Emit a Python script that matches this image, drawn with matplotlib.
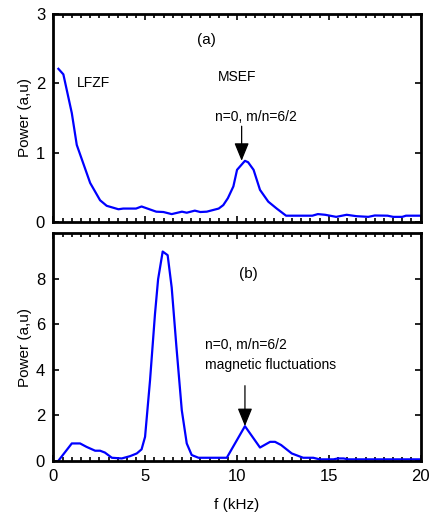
"""Power spectra of zonal flow / magnetic fluctuations, two stacked panels."""

import matplotlib
matplotlib.use("Agg")
import matplotlib.pyplot as plt
from matplotlib.ticker import MultipleLocator

plt.rcParams["font.family"] = ["Liberation Sans", "DejaVu Sans"]

# panel (a): floating potential spectrum
freq_a = [0.27, 0.54, 1.0, 1.27, 2.0, 2.54, 2.9, 3.54, 3.8, 4.5, 4.8, 5.6, 5.99,
          6.44, 7.0, 7.26, 7.7, 8.0, 8.35, 9.0, 9.25, 9.5, 9.8, 10.0, 10.43,
          10.6, 10.9, 11.25, 11.7, 12.16, 12.67, 13.4, 14.1, 14.4, 14.8, 15.4,
          15.97, 16.5, 17.15, 17.5, 18.2, 18.5, 19.0, 19.2, 20.0]
power_a = [2.21, 2.13, 1.57, 1.11, 0.56, 0.31, 0.23, 0.18, 0.19, 0.19, 0.22,
           0.145, 0.14, 0.11, 0.145, 0.13, 0.16, 0.14, 0.145, 0.19, 0.24, 0.34,
           0.51, 0.75, 0.88, 0.86, 0.75, 0.46, 0.29, 0.19, 0.087, 0.087, 0.087,
           0.11, 0.10, 0.07, 0.10, 0.08, 0.07, 0.09, 0.087, 0.07, 0.07, 0.087,
           0.087]

# panel (b): magnetic fluctuation spectrum
freq_b = [0.27, 1.0, 1.45, 1.8, 2.27, 2.54, 2.8, 3.18, 3.72, 4.17, 4.54, 4.8,
          4.99, 5.26, 5.53, 5.7, 5.95, 6.22, 6.44, 6.7, 6.99, 7.26, 7.53, 7.9,
          9.44, 10.43, 11.25, 11.8, 12.07, 12.4, 12.98, 13.6, 14.15, 14.5,
          15.25, 15.5, 15.8, 16.06, 20.0]
power_b = [0.0, 0.76, 0.76, 0.61, 0.44, 0.44, 0.36, 0.13, 0.10, 0.20, 0.32,
           0.50, 1.05, 3.53, 6.45, 7.98, 9.2, 9.04, 7.62, 4.99, 2.22, 0.76,
           0.25, 0.13, 0.13, 1.52, 0.58, 0.83, 0.83, 0.69, 0.32, 0.13, 0.13,
           0.06, 0.06, 0.10, 0.10, 0.06, 0.06]

ARROW = dict(arrowstyle="-|>,head_length=1.1,head_width=0.45", color="k",
             lw=0.9, mutation_scale=10, shrinkA=0, shrinkB=0)


def style_axes(ax):
    for s in ax.spines.values():
        s.set_linewidth(2)
    ax.set_xlim(0, 20)
    ax.xaxis.set_major_locator(MultipleLocator(5))
    ax.xaxis.set_minor_locator(MultipleLocator(0.5))
    ax.tick_params(which="both", direction="in", top=True, right=True,
                   labelsize=12, width=1.2)
    ax.tick_params(which="major", length=4, pad=6)
    ax.tick_params(which="minor", length=3)
    ax.set_ylabel("Power (a,u)", fontsize=11, labelpad=3)


fig = plt.figure(figsize=(4.31, 5.15), dpi=100)
ax1 = fig.add_axes([0.124, 0.5695, 0.852, 0.403])
ax2 = fig.add_axes([0.124, 0.1054, 0.852, 0.4415])

ax1.plot(freq_a, power_a, color="#0000ff", lw=1.6)
style_axes(ax1)
ax1.set_ylim(0, 3)
ax1.set_yticks([0, 1, 2, 3])
ax1.tick_params(labelbottom=False)
ax1.text(8.35, 2.63, "(a)", fontsize=11, ha="center", va="center")
ax1.text(2.18, 2.0, "LFZF", fontsize=10, ha="center", va="center")
ax1.text(10.0, 2.09, "MSEF", fontsize=10, ha="center", va="center")
ax1.text(11.05, 1.52, "n=0, m/n=6/2", fontsize=10, ha="center", va="center")
ax1.annotate("", xy=(10.25, 0.88), xytext=(10.25, 1.38), arrowprops=ARROW)

ax2.plot(freq_b, power_b, color="#0000ff", lw=1.6)
style_axes(ax2)
ax2.set_ylim(0, 10)
ax2.set_yticks([0, 2, 4, 6, 8])
ax2.set_xlabel("f (kHz)", fontsize=11, labelpad=10)
ax2.text(10.6, 8.2, "(b)", fontsize=11, ha="center", va="center")
ax2.text(8.26, 5.07, "n=0, m/n=6/2", fontsize=10, ha="left", va="center")
ax2.text(8.26, 4.23, "magnetic fluctuations", fontsize=10, ha="left",
         va="center")
ax2.annotate("", xy=(10.43, 1.52), xytext=(10.43, 3.3), arrowprops=ARROW)

fig.savefig("out.png", dpi=100)
plt.close(fig)
